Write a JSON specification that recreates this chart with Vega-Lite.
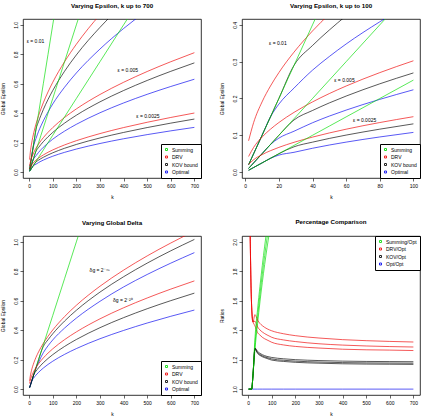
{
  "$schema": "https://vega.github.io/schema/vega-lite/v6.json",
  "autosize": {"type": "none"},
  "padding": {"left": 23, "top": 19, "right": 401, "bottom": 401},
  "background": "white",
  "config": {
    "font": "Liberation Sans",
    "view": {"stroke": "black", "strokeWidth": 0.8},
    "axis": {"domain": false, "grid": false, "tickColor": "black", "tickSize": 3, "tickWidth": 0.6, "labelFontSize": 5, "labelColor": "black", "labelFont": "Liberation Sans", "titleFont": "Liberation Sans", "titleFontSize": 5, "titleFontWeight": "normal", "titleColor": "black", "labelOverlap": false, "labelFlush": false},
    "axisX": {"labelPadding": 2.5, "titlePadding": 6},
    "axisY": {"labelAngle": 270, "labelPadding": 2, "titlePadding": 8},
    "title": {"fontSize": 6.2, "fontWeight": "bold", "font": "Liberation Sans", "offset": 10, "color": "black", "anchor": "middle", "frame": "group"},
    "legend": {"strokeColor": "black", "fillColor": "white", "padding": 3, "labelFontSize": 5, "labelFont": "Liberation Sans", "labelColor": "black", "rowPadding": 0.5, "offset": 0, "labelOffset": 3, "cornerRadius": 0},
    "line": {"strokeWidth": 1, "interpolate": "monotone", "opacity": 0.65, "clip": true},
    "text": {"fontSize": 5, "font": "Liberation Sans", "color": "black"}
  },
  "datasets": {
    "eps": [
      {"k": 2, "e": "0.01", "Summing": 0.02, "DRV": 0.0851, "KOV bound": 0.02, "Optimal": 0.02},
      {"k": 5, "e": "0.01", "Summing": 0.05, "DRV": 0.1347, "KOV bound": 0.05, "Optimal": 0.05},
      {"k": 10, "e": "0.01", "Summing": 0.1, "DRV": 0.1907, "KOV bound": 0.1, "Optimal": 0.1},
      {"k": 15, "e": "0.01", "Summing": 0.15, "DRV": 0.2339, "KOV bound": 0.15, "Optimal": 0.15},
      {"k": 20, "e": "0.01", "Summing": 0.2, "DRV": 0.2703, "KOV bound": 0.2, "Optimal": 0.1847},
      {"k": 29, "e": "0.01", "Summing": 0.29, "DRV": 0.326, "KOV bound": 0.29, "Optimal": 0.2282},
      {"k": 40, "e": "0.01", "Summing": 0.4, "DRV": 0.3835, "KOV bound": 0.344, "Optimal": 0.277},
      {"k": 50, "e": "0.01", "Summing": 0.5, "DRV": 0.4293, "KOV bound": 0.386, "Optimal": 0.3141},
      {"k": 60, "e": "0.01", "Summing": 0.6, "DRV": 0.4708, "KOV bound": 0.4247, "Optimal": 0.3481},
      {"k": 80, "e": "0.01", "Summing": 0.8, "DRV": 0.5447, "KOV bound": 0.4933, "Optimal": 0.4084},
      {"k": 100, "e": "0.01", "Summing": 1.0, "DRV": 0.61, "KOV bound": 0.554, "Optimal": 0.4628},
      {"k": 150, "e": "0.01", "Summing": 1.5, "DRV": 0.7498, "KOV bound": 0.685, "Optimal": 0.5766},
      {"k": 200, "e": "0.01", "Summing": 2.0, "DRV": 0.8685, "KOV bound": 0.796, "Optimal": 0.6734},
      {"k": 300, "e": "0.01", "Summing": 3.0, "DRV": 1.0692, "KOV bound": 0.983, "Optimal": 0.8359},
      {"k": 400, "e": "0.01", "Summing": 4.0, "DRV": 1.24, "KOV bound": 1.143, "Optimal": 0.9753},
      {"k": 500, "e": "0.01", "Summing": 5.0, "DRV": 1.3916, "KOV bound": 1.285, "Optimal": 1.0983},
      {"k": 600, "e": "0.01", "Summing": 6.0, "DRV": 1.5297, "KOV bound": 1.414, "Optimal": 1.2096},
      {"k": 700, "e": "0.01", "Summing": 7.0, "DRV": 1.6575, "KOV bound": 1.534, "Optimal": 1.3134},
      {"k": 2, "e": "0.005", "Summing": 0.01, "DRV": 0.0425, "KOV bound": 0.01, "Optimal": 0.01},
      {"k": 5, "e": "0.005", "Summing": 0.025, "DRV": 0.0672, "KOV bound": 0.025, "Optimal": 0.025},
      {"k": 10, "e": "0.005", "Summing": 0.05, "DRV": 0.0952, "KOV bound": 0.05, "Optimal": 0.05},
      {"k": 15, "e": "0.005", "Summing": 0.075, "DRV": 0.1166, "KOV bound": 0.075, "Optimal": 0.075},
      {"k": 20, "e": "0.005", "Summing": 0.1, "DRV": 0.1347, "KOV bound": 0.1, "Optimal": 0.0923},
      {"k": 29, "e": "0.005", "Summing": 0.145, "DRV": 0.1623, "KOV bound": 0.1417, "Optimal": 0.1111},
      {"k": 40, "e": "0.005", "Summing": 0.2, "DRV": 0.1907, "KOV bound": 0.1674, "Optimal": 0.1341},
      {"k": 50, "e": "0.005", "Summing": 0.25, "DRV": 0.2134, "KOV bound": 0.188, "Optimal": 0.1522},
      {"k": 60, "e": "0.005", "Summing": 0.3, "DRV": 0.2339, "KOV bound": 0.2066, "Optimal": 0.1685},
      {"k": 80, "e": "0.005", "Summing": 0.4, "DRV": 0.2703, "KOV bound": 0.2399, "Optimal": 0.1976},
      {"k": 100, "e": "0.005", "Summing": 0.5, "DRV": 0.3025, "KOV bound": 0.2695, "Optimal": 0.2237},
      {"k": 150, "e": "0.005", "Summing": 0.75, "DRV": 0.3712, "KOV bound": 0.3327, "Optimal": 0.2782},
      {"k": 200, "e": "0.005", "Summing": 1.0, "DRV": 0.4293, "KOV bound": 0.3863, "Optimal": 0.3246},
      {"k": 300, "e": "0.005", "Summing": 1.5, "DRV": 0.5271, "KOV bound": 0.4771, "Optimal": 0.403},
      {"k": 400, "e": "0.005", "Summing": 2.0, "DRV": 0.61, "KOV bound": 0.5541, "Optimal": 0.4696},
      {"k": 500, "e": "0.005", "Summing": 2.5, "DRV": 0.6833, "KOV bound": 0.6225, "Optimal": 0.5284},
      {"k": 600, "e": "0.005", "Summing": 3.0, "DRV": 0.7498, "KOV bound": 0.6846, "Optimal": 0.5816},
      {"k": 700, "e": "0.005", "Summing": 3.5, "DRV": 0.8112, "KOV bound": 0.742, "Optimal": 0.631},
      {"k": 2, "e": "0.0025", "Summing": 0.005, "DRV": 0.0212, "KOV bound": 0.005, "Optimal": 0.005},
      {"k": 5, "e": "0.0025", "Summing": 0.0125, "DRV": 0.0336, "KOV bound": 0.0125, "Optimal": 0.0125},
      {"k": 10, "e": "0.0025", "Summing": 0.025, "DRV": 0.0475, "KOV bound": 0.025, "Optimal": 0.025},
      {"k": 15, "e": "0.0025", "Summing": 0.0375, "DRV": 0.0582, "KOV bound": 0.0375, "Optimal": 0.0375},
      {"k": 20, "e": "0.0025", "Summing": 0.05, "DRV": 0.0672, "KOV bound": 0.05, "Optimal": 0.0462},
      {"k": 29, "e": "0.0025", "Summing": 0.0725, "DRV": 0.081, "KOV bound": 0.0688, "Optimal": 0.0538},
      {"k": 40, "e": "0.0025", "Summing": 0.1, "DRV": 0.0951, "KOV bound": 0.0814, "Optimal": 0.0648},
      {"k": 50, "e": "0.0025", "Summing": 0.125, "DRV": 0.1064, "KOV bound": 0.0915, "Optimal": 0.0736},
      {"k": 60, "e": "0.0025", "Summing": 0.15, "DRV": 0.1166, "KOV bound": 0.1006, "Optimal": 0.0815},
      {"k": 80, "e": "0.0025", "Summing": 0.2, "DRV": 0.1347, "KOV bound": 0.1167, "Optimal": 0.0955},
      {"k": 100, "e": "0.0025", "Summing": 0.25, "DRV": 0.1506, "KOV bound": 0.1311, "Optimal": 0.1079},
      {"k": 150, "e": "0.0025", "Summing": 0.375, "DRV": 0.1846, "KOV bound": 0.1619, "Optimal": 0.1342},
      {"k": 200, "e": "0.0025", "Summing": 0.5, "DRV": 0.2134, "KOV bound": 0.1879, "Optimal": 0.1566},
      {"k": 300, "e": "0.0025", "Summing": 0.75, "DRV": 0.2617, "KOV bound": 0.232, "Optimal": 0.1943},
      {"k": 400, "e": "0.0025", "Summing": 1.0, "DRV": 0.3025, "KOV bound": 0.2694, "Optimal": 0.2264},
      {"k": 500, "e": "0.0025", "Summing": 1.25, "DRV": 0.3385, "KOV bound": 0.3026, "Optimal": 0.2547},
      {"k": 600, "e": "0.0025", "Summing": 1.5, "DRV": 0.3712, "KOV bound": 0.3327, "Optimal": 0.2803},
      {"k": 700, "e": "0.0025", "Summing": 1.75, "DRV": 0.4013, "KOV bound": 0.3604, "Optimal": 0.3039}
    ],
    "delta": [
      {"k": 2, "d": "45", "Summing": 0.01, "DRV": 0.0565, "KOV bound": 0.01, "Optimal": 0.01},
      {"k": 5, "d": "45", "Summing": 0.025, "DRV": 0.0893, "KOV bound": 0.025, "Optimal": 0.025},
      {"k": 10, "d": "45", "Summing": 0.05, "DRV": 0.1264, "KOV bound": 0.05, "Optimal": 0.05},
      {"k": 20, "d": "45", "Summing": 0.1, "DRV": 0.1789, "KOV bound": 0.1, "Optimal": 0.1},
      {"k": 29, "d": "45", "Summing": 0.145, "DRV": 0.2156, "KOV bound": 0.145, "Optimal": 0.142},
      {"k": 40, "d": "45", "Summing": 0.2, "DRV": 0.2534, "KOV bound": 0.2, "Optimal": 0.182},
      {"k": 50, "d": "45", "Summing": 0.25, "DRV": 0.2834, "KOV bound": 0.25, "Optimal": 0.217},
      {"k": 60, "d": "45", "Summing": 0.3, "DRV": 0.3106, "KOV bound": 0.2895, "Optimal": 0.2474},
      {"k": 80, "d": "45", "Summing": 0.4, "DRV": 0.3589, "KOV bound": 0.3353, "Optimal": 0.2941},
      {"k": 100, "d": "45", "Summing": 0.5, "DRV": 0.4015, "KOV bound": 0.3758, "Optimal": 0.334},
      {"k": 150, "d": "45", "Summing": 0.75, "DRV": 0.4925, "KOV bound": 0.4622, "Optimal": 0.4145},
      {"k": 200, "d": "45", "Summing": 1.0, "DRV": 0.5693, "KOV bound": 0.5354, "Optimal": 0.4823},
      {"k": 300, "d": "45", "Summing": 1.5, "DRV": 0.6986, "KOV bound": 0.6588, "Optimal": 0.5962},
      {"k": 400, "d": "45", "Summing": 2.0, "DRV": 0.808, "KOV bound": 0.7632, "Optimal": 0.6938},
      {"k": 500, "d": "45", "Summing": 2.5, "DRV": 0.9047, "KOV bound": 0.8557, "Optimal": 0.7786},
      {"k": 600, "d": "45", "Summing": 3.0, "DRV": 0.9923, "KOV bound": 0.9394, "Optimal": 0.8556},
      {"k": 700, "d": "45", "Summing": 3.5, "DRV": 1.0732, "KOV bound": 1.0167, "Optimal": 0.927},
      {"k": 2, "d": "20", "DRV": 0.0384, "KOV bound": 0.01, "Optimal": 0.01},
      {"k": 5, "d": "20", "DRV": 0.0607, "KOV bound": 0.025, "Optimal": 0.025},
      {"k": 10, "d": "20", "DRV": 0.086, "KOV bound": 0.05, "Optimal": 0.05},
      {"k": 20, "d": "20", "DRV": 0.1218, "KOV bound": 0.1, "Optimal": 0.0769},
      {"k": 29, "d": "20", "DRV": 0.1467, "KOV bound": 0.1222, "Optimal": 0.0951},
      {"k": 40, "d": "20", "DRV": 0.1725, "KOV bound": 0.1446, "Optimal": 0.1139},
      {"k": 50, "d": "20", "DRV": 0.1931, "KOV bound": 0.1626, "Optimal": 0.129},
      {"k": 60, "d": "20", "DRV": 0.2116, "KOV bound": 0.179, "Optimal": 0.143},
      {"k": 80, "d": "20", "DRV": 0.2446, "KOV bound": 0.2082, "Optimal": 0.1676},
      {"k": 100, "d": "20", "DRV": 0.2737, "KOV bound": 0.2341, "Optimal": 0.1894},
      {"k": 150, "d": "20", "DRV": 0.3359, "KOV bound": 0.2897, "Optimal": 0.2359},
      {"k": 200, "d": "20", "DRV": 0.3885, "KOV bound": 0.337, "Optimal": 0.2753},
      {"k": 300, "d": "20", "DRV": 0.4772, "KOV bound": 0.4172, "Optimal": 0.342},
      {"k": 400, "d": "20", "DRV": 0.5524, "KOV bound": 0.4853, "Optimal": 0.3984},
      {"k": 500, "d": "20", "DRV": 0.6189, "KOV bound": 0.5459, "Optimal": 0.4489},
      {"k": 600, "d": "20", "DRV": 0.6793, "KOV bound": 0.6009, "Optimal": 0.4946},
      {"k": 700, "d": "20", "DRV": 0.735, "KOV bound": 0.6519, "Optimal": 0.537}
    ],
    "ratio": [
      {"k": 2, "e": "0.01", "Summing/Opt": 1, "DRV/Opt": 4.26, "KOV/Opt": 1, "Opt/Opt": 1},
      {"k": 5, "e": "0.01", "Summing/Opt": 1, "DRV/Opt": 2.69, "KOV/Opt": 1, "Opt/Opt": 1},
      {"k": 10, "e": "0.01", "Summing/Opt": 1, "DRV/Opt": 1.907, "KOV/Opt": 1, "Opt/Opt": 1},
      {"k": 15, "e": "0.01", "Summing/Opt": 1, "DRV/Opt": 1.559, "KOV/Opt": 1, "Opt/Opt": 1},
      {"k": 20, "e": "0.01", "Summing/Opt": 1.083, "DRV/Opt": 1.463, "KOV/Opt": 1.083, "Opt/Opt": 1},
      {"k": 29, "e": "0.01", "Summing/Opt": 1.271, "DRV/Opt": 1.429, "KOV/Opt": 1.271, "Opt/Opt": 1},
      {"k": 40, "e": "0.01", "Summing/Opt": 1.444, "DRV/Opt": 1.384, "KOV/Opt": 1.242, "Opt/Opt": 1},
      {"k": 50, "e": "0.01", "Summing/Opt": 1.592, "DRV/Opt": 1.367, "KOV/Opt": 1.229, "Opt/Opt": 1},
      {"k": 60, "e": "0.01", "Summing/Opt": 1.724, "DRV/Opt": 1.352, "KOV/Opt": 1.22, "Opt/Opt": 1},
      {"k": 80, "e": "0.01", "Summing/Opt": 1.959, "DRV/Opt": 1.334, "KOV/Opt": 1.208, "Opt/Opt": 1},
      {"k": 100, "e": "0.01", "Summing/Opt": 2.161, "DRV/Opt": 1.318, "KOV/Opt": 1.197, "Opt/Opt": 1},
      {"k": 150, "e": "0.01", "Summing/Opt": 2.601, "DRV/Opt": 1.3, "KOV/Opt": 1.188, "Opt/Opt": 1},
      {"k": 200, "e": "0.01", "Summing/Opt": 2.97, "DRV/Opt": 1.29, "KOV/Opt": 1.182, "Opt/Opt": 1},
      {"k": 300, "e": "0.01", "Summing/Opt": 3.589, "DRV/Opt": 1.279, "KOV/Opt": 1.176, "Opt/Opt": 1},
      {"k": 400, "e": "0.01", "Summing/Opt": 4.101, "DRV/Opt": 1.271, "KOV/Opt": 1.172, "Opt/Opt": 1},
      {"k": 500, "e": "0.01", "Summing/Opt": 4.552, "DRV/Opt": 1.267, "KOV/Opt": 1.17, "Opt/Opt": 1},
      {"k": 600, "e": "0.01", "Summing/Opt": 4.96, "DRV/Opt": 1.265, "KOV/Opt": 1.169, "Opt/Opt": 1},
      {"k": 700, "e": "0.01", "Summing/Opt": 5.33, "DRV/Opt": 1.262, "KOV/Opt": 1.168, "Opt/Opt": 1},
      {"k": 2, "e": "0.005", "Summing/Opt": 1, "DRV/Opt": 4.25, "KOV/Opt": 1},
      {"k": 5, "e": "0.005", "Summing/Opt": 1, "DRV/Opt": 2.69, "KOV/Opt": 1},
      {"k": 10, "e": "0.005", "Summing/Opt": 1, "DRV/Opt": 1.904, "KOV/Opt": 1},
      {"k": 15, "e": "0.005", "Summing/Opt": 1, "DRV/Opt": 1.555, "KOV/Opt": 1},
      {"k": 20, "e": "0.005", "Summing/Opt": 1.083, "DRV/Opt": 1.459, "KOV/Opt": 1.083},
      {"k": 29, "e": "0.005", "Summing/Opt": 1.305, "DRV/Opt": 1.461, "KOV/Opt": 1.275},
      {"k": 40, "e": "0.005", "Summing/Opt": 1.491, "DRV/Opt": 1.422, "KOV/Opt": 1.248},
      {"k": 50, "e": "0.005", "Summing/Opt": 1.643, "DRV/Opt": 1.402, "KOV/Opt": 1.235},
      {"k": 60, "e": "0.005", "Summing/Opt": 1.78, "DRV/Opt": 1.388, "KOV/Opt": 1.226},
      {"k": 80, "e": "0.005", "Summing/Opt": 2.024, "DRV/Opt": 1.368, "KOV/Opt": 1.214},
      {"k": 100, "e": "0.005", "Summing/Opt": 2.235, "DRV/Opt": 1.352, "KOV/Opt": 1.205},
      {"k": 150, "e": "0.005", "Summing/Opt": 2.696, "DRV/Opt": 1.334, "KOV/Opt": 1.196},
      {"k": 200, "e": "0.005", "Summing/Opt": 3.081, "DRV/Opt": 1.323, "KOV/Opt": 1.19},
      {"k": 300, "e": "0.005", "Summing/Opt": 3.722, "DRV/Opt": 1.308, "KOV/Opt": 1.184},
      {"k": 400, "e": "0.005", "Summing/Opt": 4.259, "DRV/Opt": 1.299, "KOV/Opt": 1.18},
      {"k": 500, "e": "0.005", "Summing/Opt": 4.731, "DRV/Opt": 1.293, "KOV/Opt": 1.178},
      {"k": 600, "e": "0.005", "Summing/Opt": 5.158, "DRV/Opt": 1.289, "KOV/Opt": 1.177},
      {"k": 700, "e": "0.005", "Summing/Opt": 5.547, "DRV/Opt": 1.286, "KOV/Opt": 1.176},
      {"k": 2, "e": "0.0025", "Summing/Opt": 1, "DRV/Opt": 4.24, "KOV/Opt": 1},
      {"k": 5, "e": "0.0025", "Summing/Opt": 1, "DRV/Opt": 2.69, "KOV/Opt": 1},
      {"k": 10, "e": "0.0025", "Summing/Opt": 1, "DRV/Opt": 1.9, "KOV/Opt": 1},
      {"k": 15, "e": "0.0025", "Summing/Opt": 1, "DRV/Opt": 1.552, "KOV/Opt": 1},
      {"k": 20, "e": "0.0025", "Summing/Opt": 1.083, "DRV/Opt": 1.455, "KOV/Opt": 1.083},
      {"k": 29, "e": "0.0025", "Summing/Opt": 1.348, "DRV/Opt": 1.506, "KOV/Opt": 1.279},
      {"k": 40, "e": "0.0025", "Summing/Opt": 1.543, "DRV/Opt": 1.468, "KOV/Opt": 1.256},
      {"k": 50, "e": "0.0025", "Summing/Opt": 1.698, "DRV/Opt": 1.446, "KOV/Opt": 1.243},
      {"k": 60, "e": "0.0025", "Summing/Opt": 1.84, "DRV/Opt": 1.431, "KOV/Opt": 1.234},
      {"k": 80, "e": "0.0025", "Summing/Opt": 2.094, "DRV/Opt": 1.41, "KOV/Opt": 1.222},
      {"k": 100, "e": "0.0025", "Summing/Opt": 2.317, "DRV/Opt": 1.396, "KOV/Opt": 1.215},
      {"k": 150, "e": "0.0025", "Summing/Opt": 2.794, "DRV/Opt": 1.376, "KOV/Opt": 1.206},
      {"k": 200, "e": "0.0025", "Summing/Opt": 3.193, "DRV/Opt": 1.363, "KOV/Opt": 1.2},
      {"k": 300, "e": "0.0025", "Summing/Opt": 3.86, "DRV/Opt": 1.347, "KOV/Opt": 1.194},
      {"k": 400, "e": "0.0025", "Summing/Opt": 4.417, "DRV/Opt": 1.336, "KOV/Opt": 1.19},
      {"k": 500, "e": "0.0025", "Summing/Opt": 4.908, "DRV/Opt": 1.329, "KOV/Opt": 1.188},
      {"k": 600, "e": "0.0025", "Summing/Opt": 5.351, "DRV/Opt": 1.324, "KOV/Opt": 1.187},
      {"k": 700, "e": "0.0025", "Summing/Opt": 5.758, "DRV/Opt": 1.32, "KOV/Opt": 1.186}
    ]
  },
  "columns": 2,
  "spacing": {"row": 58, "column": 41},
  "bounds": "flush",
  "resolve": {"scale": {"color": "independent", "x": "independent", "y": "independent"}, "legend": {"color": "independent"}},
  "concat": [
    {
      "width": 178, "height": 159,
      "title": "Varying Epsilon, k up to 700",
      "encoding": {
        "x": {"field": "k", "type": "quantitative", "scale": {"domain": [-26, 728], "nice": false, "zero": false}, "axis": {"values": [0, 100, 200, 300, 400, 500, 600, 700], "title": "k"}},
        "y": {"field": "value", "type": "quantitative", "scale": {"domain": [-0.04, 1.04], "nice": false, "zero": false}, "axis": {"values": [0, 0.2, 0.4, 0.6, 0.8, 1.0], "format": ".1f", "title": "Global Epsilon"}}
      },
      "layer": [
        {
          "data": {"name": "eps"},
          "transform": [{"fold": ["Optimal", "KOV bound", "DRV", "Summing"], "as": ["method", "value"]}],
          "mark": {"type": "line", "clip": true},
          "encoding": {
            "color": {"field": "method", "type": "nominal", "scale": {"domain": ["Summing", "DRV", "KOV bound", "Optimal"], "range": ["#00dd00", "#ee0000", "#000000", "#0000ee"]},
              "legend": {"orient": "bottom-right", "title": null, "symbolType": "square", "symbolSize": 4, "symbolStrokeWidth": 2.2, "symbolOpacity": 0.85}},
            "detail": {"field": "e"}
          }
        },
        {
          "data": {"values": [
            {"k": 27, "value": 0.89, "t": "ε = 0.01"},
            {"k": 418, "value": 0.694, "t": "ε = 0.005"},
            {"k": 503, "value": 0.379, "t": "ε = 0.0025"}
          ]},
          "mark": {"type": "text"},
          "encoding": {"text": {"field": "t"}}
        }
      ]
    },
    {
      "width": 178, "height": 159,
      "title": "Varying Epsilon, k up to 100",
      "encoding": {
        "x": {"field": "k", "type": "quantitative", "scale": {"domain": [-1.92, 103.92], "nice": false, "zero": false}, "axis": {"values": [0, 20, 40, 60, 80, 100], "title": "k"}},
        "y": {"field": "value", "type": "quantitative", "scale": {"domain": [-0.016, 0.416], "nice": false, "zero": false}, "axis": {"values": [0, 0.1, 0.2, 0.3, 0.4], "format": ".1f", "title": "Global Epsilon"}}
      },
      "layer": [
        {
          "data": {"name": "eps"},
          "transform": [{"filter": {"field": "k", "lte": 100}}, {"fold": ["Optimal", "KOV bound", "DRV", "Summing"], "as": ["method", "value"]}],
          "mark": {"type": "line", "clip": true},
          "encoding": {
            "color": {"field": "method", "type": "nominal", "scale": {"domain": ["Summing", "DRV", "KOV bound", "Optimal"], "range": ["#00dd00", "#ee0000", "#000000", "#0000ee"]},
              "legend": {"orient": "bottom-right", "title": null, "symbolType": "square", "symbolSize": 4, "symbolStrokeWidth": 2.2, "symbolOpacity": 0.85}},
            "detail": {"field": "e"}
          }
        },
        {
          "data": {"values": [
            {"k": 19.4, "value": 0.352, "t": "ε = 0.01"},
            {"k": 59, "value": 0.25, "t": "ε = 0.005"},
            {"k": 71, "value": 0.141, "t": "ε = 0.0025"}
          ]},
          "mark": {"type": "text"},
          "encoding": {"text": {"field": "t"}}
        }
      ]
    },
    {
      "width": 178, "height": 159,
      "title": "Varying Global Delta",
      "encoding": {
        "x": {"field": "k", "type": "quantitative", "scale": {"domain": [-26, 728], "nice": false, "zero": false}, "axis": {"values": [0, 100, 200, 300, 400, 500, 600, 700], "title": "k"}},
        "y": {"field": "value", "type": "quantitative", "scale": {"domain": [-0.04, 1.04], "nice": false, "zero": false}, "axis": {"values": [0, 0.2, 0.4, 0.6, 0.8, 1.0], "format": ".1f", "title": "Global Epsilon"}}
      },
      "layer": [
        {
          "data": {"name": "delta"},
          "transform": [{"fold": ["Optimal", "KOV bound", "DRV", "Summing"], "as": ["method", "value"]}],
          "mark": {"type": "line", "clip": true},
          "encoding": {
            "color": {"field": "method", "type": "nominal", "scale": {"domain": ["Summing", "DRV", "KOV bound", "Optimal"], "range": ["#00dd00", "#ee0000", "#000000", "#0000ee"]},
              "legend": {"orient": "bottom-right", "title": null, "symbolType": "square", "symbolSize": 4, "symbolStrokeWidth": 2.2, "symbolOpacity": 0.85}},
            "detail": {"field": "d"}
          }
        },
        {
          "data": {"values": [
            {"k": 299, "value": 0.807, "t": "δg = 2⁻⁴⁵"},
            {"k": 397, "value": 0.604, "t": "δg = 2⁻²⁰"}
          ]},
          "mark": {"type": "text"},
          "encoding": {"text": {"field": "t"}}
        }
      ]
    },
    {
      "width": 178, "height": 159,
      "title": "Percentage Comparison",
      "data": {"name": "ratio"},
      "transform": [{"fold": ["Opt/Opt", "KOV/Opt", "DRV/Opt", "Summing/Opt"], "as": ["method", "value"]}],
      "mark": {"type": "line", "clip": true},
      "encoding": {
        "x": {"field": "k", "type": "quantitative", "scale": {"domain": [-26, 728], "nice": false, "zero": false}, "axis": {"values": [0, 100, 200, 300, 400, 500, 600, 700], "title": "k"}},
        "y": {"field": "value", "type": "quantitative", "scale": {"domain": [0.96, 2.04], "nice": false, "zero": false}, "axis": {"values": [1.0, 1.2, 1.4, 1.6, 1.8, 2.0], "format": ".1f", "title": "Ratios"}},
        "color": {"field": "method", "type": "nominal", "scale": {"domain": ["Summing/Opt", "DRV/Opt", "KOV/Opt", "Opt/Opt"], "range": ["#00dd00", "#ee0000", "#000000", "#0000ee"]},
          "legend": {"orient": "top-right", "title": null, "symbolType": "square", "symbolSize": 4, "symbolStrokeWidth": 2.2, "symbolOpacity": 0.85}},
        "detail": {"field": "e"}
      }
    }
  ]
}
